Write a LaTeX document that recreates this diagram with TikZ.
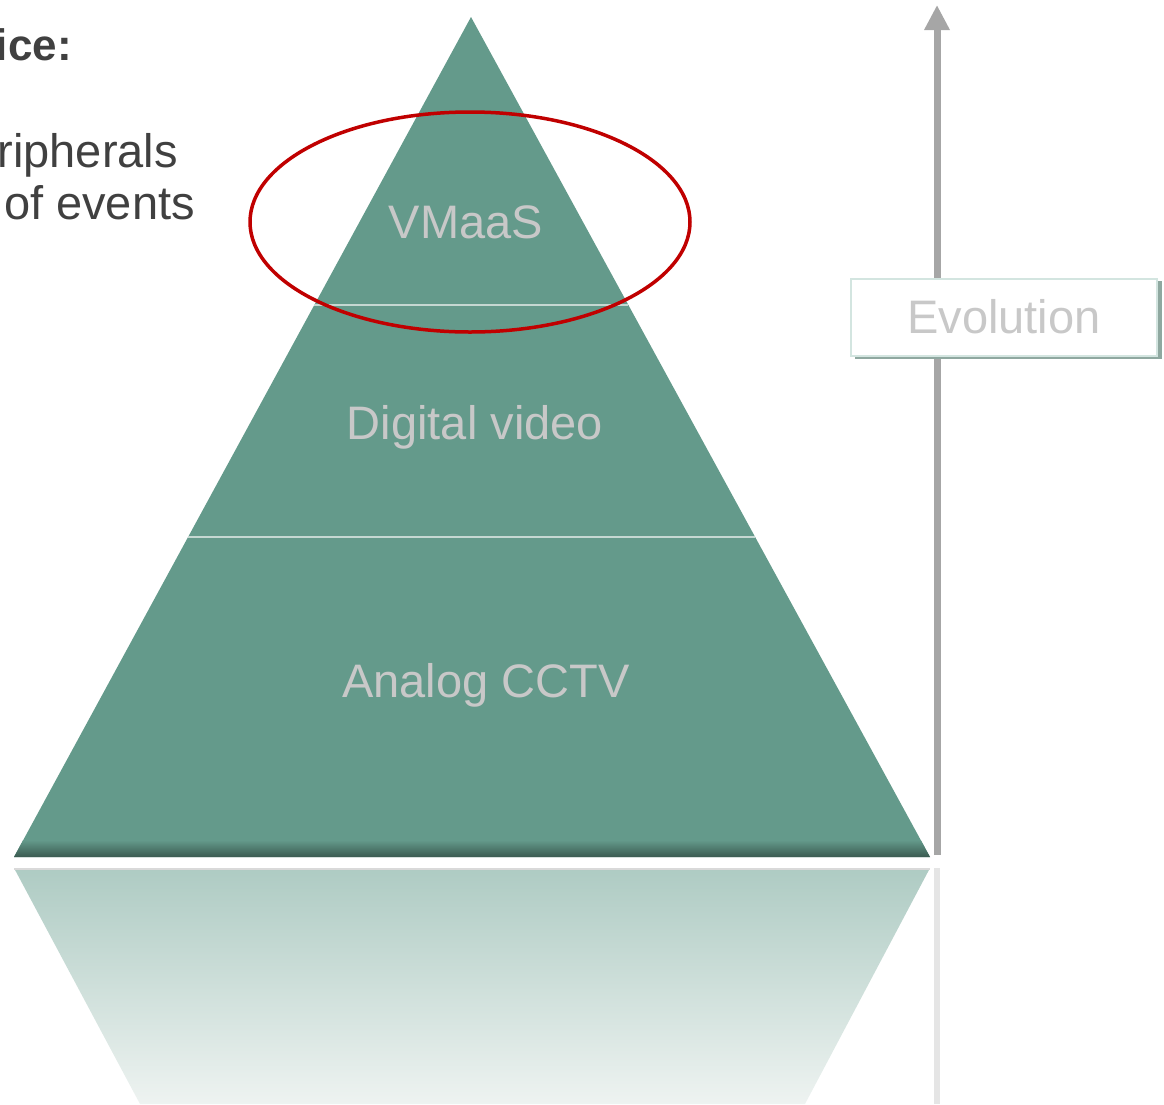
\documentclass[tikz,border=0pt]{standalone}
\usepackage{fontspec}
\setmainfont{Liberation Sans}
\usetikzlibrary{arrows.meta}
\definecolor{tri}{HTML}{649A8B}
\definecolor{tridark}{HTML}{3A5A50}
\definecolor{lbl}{HTML}{C8C8C8}
\definecolor{txt}{HTML}{404040}
\definecolor{redline}{HTML}{C00000}
\definecolor{arrowgray}{HTML}{A6A6A6}
\definecolor{divline}{HTML}{C5D8D2}
\definecolor{boxedge}{HTML}{D3E5E0}
\definecolor{boxshadow}{HTML}{8FA8A0}
\definecolor{reftop}{HTML}{AECBC3}
\definecolor{refbot}{HTML}{EEF3F1}
\tikzset{
  lvl/.style={text=lbl, font=\fontsize{47}{52}\selectfont, inner sep=0pt},
  sidetext/.style={text=txt, font=\fontsize{47}{52}\selectfont, inner sep=0pt, anchor=base east},
  divider/.style={draw=divline, line width=2pt},
}
\begin{document}
\begin{tikzpicture}[x=1pt,y=-1pt]
\useasboundingbox (0,0) rectangle (1164,1104);
% reflection
\shade[top color=reftop, bottom color=refbot] (14,868) -- (930,868) -- (805,1104) -- (140,1104) -- cycle;
\fill[white!70!gray] (14,868) rectangle (930,870);
\fill[black!10] (934,868) rectangle (940,1104);
% pyramid
\coordinate (apex) at (471,17);
\coordinate (bl) at (14,857);
\coordinate (br) at (930,857);
\fill[tri] (apex) -- (br) -- (bl) -- cycle;
\begin{scope}
  \clip (apex) -- (br) -- (bl) -- cycle;
  \shade[top color=tri, bottom color=tridark] (0,840) rectangle (1164,857);
\end{scope}
\coordinate (d1l) at (314,305);
\coordinate (d1r) at (628,305);
\coordinate (d2l) at (188,537);
\coordinate (d2r) at (755,537);
\draw[divider] (d1l) -- (d1r);
\draw[divider] (d2l) -- (d2r);
\node[lvl] (vmaas) at (466,222) {VMaaS};
\node[lvl] (digital) at (475,427) {Digital video};
\node[lvl] (analog) at (486,685) {Analog CCTV};
% red ellipse
\draw[redline, line width=3.5pt] (470,222) ellipse [x radius=220, y radius=110];
% left text
\node[sidetext, font=\fontsize{44}{52}\selectfont\bfseries] (t1) at (72,60) {ice:};
\node[sidetext] (t2) at (178,167) {ripherals};
\node[sidetext] (t3) at (195,219) {of events};
% evolution arrow
\coordinate (arrbot) at (937,855);
\coordinate (arrtop) at (937,5);
\draw[arrowgray, line width=7pt, -{Triangle[width=24pt,length=25pt]}] (arrbot) -- (arrtop);
\fill[boxshadow] (855,281) rectangle (1162,359);
\node[draw=boxedge, fill=white, line width=2pt, minimum width=306pt, minimum height=77pt, inner sep=0pt,
      text=lbl, font=\fontsize{47}{52}\selectfont] (evo) at (1004,317) {Evolution};
\end{tikzpicture}
\end{document}
